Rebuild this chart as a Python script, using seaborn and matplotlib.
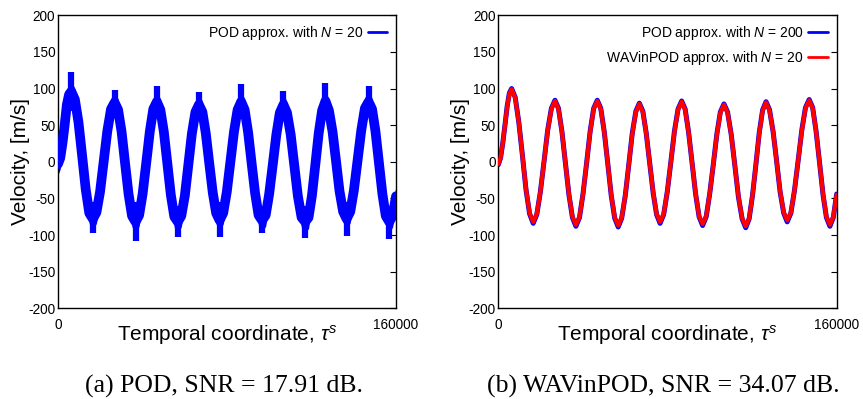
import matplotlib
matplotlib.use("Agg")
import matplotlib.pyplot as plt
import seaborn as sns
import pandas as pd

# ---------------- data ----------------
t = [0, 1050, 2100, 3150, 4200, 5250, 6300,
     8000, 9700, 11400, 13100, 14800, 16500,
     18200, 19900, 21650, 23350, 25100, 26800,
     28450, 30100, 31750, 33400, 35050, 36700,
     38400, 40050, 41750, 43450, 45100, 46800,
     48450, 50100, 51750, 53400, 55050, 56700,
     58350, 60050, 61700, 63350, 65050, 66700,
     68350, 69950, 71600, 73250, 74850, 76500,
     78200, 79900, 81600, 83300, 85000, 86700,
     88350, 90000, 91650, 93300, 94950, 96600,
     98300, 99950, 101650, 103350, 105000, 106700,
     108400, 110150, 111850, 113550, 115300, 117000,
     118600, 120200, 121800, 123400, 125000, 126600,
     128250, 129950, 131600, 133250, 134950, 136600,
     138350, 140050, 141800, 143550, 145250, 147000,
     148650, 150250, 151900, 153550, 155150, 156800,
     158400, 160000]

wavinpod_n20 = [-3, 5, 25, 50, 75, 93, 99,
                87, 54, 9, -37, -70, -82,
                -71, -41, 1, 42, 72, 83,
                72, 41, -2, -44, -75, -86,
                -75, -44, -2, 41, 72, 83,
                72, 41, -2, -45, -76, -87,
                -76, -46, -4, 38, 68, 79,
                68, 39, -2, -42, -71, -82,
                -71, -41, 0, 41, 71, 82,
                71, 40, -2, -43, -74, -85,
                -74, -44, -4, 37, 67, 78,
                67, 37, -5, -47, -77, -88,
                -77, -46, -4, 39, 70, 81,
                70, 41, 1, -40, -69, -80,
                -69, -39, 2, 43, 73, 84,
                73, 42, -1, -44, -75, -86,
                -75, -45]

pod_n200 = [-4, 5, 25, 50, 76, 94, 100,
            88, 54, 9, -38, -71, -84,
            -72, -41, 1, 43, 73, 84,
            73, 41, -2, -45, -76, -88,
            -76, -44, -2, 42, 73, 84,
            73, 41, -2, -46, -77, -89,
            -77, -46, -4, 39, 69, 80,
            69, 39, -2, -43, -72, -84,
            -72, -41, 0, 42, 72, 83,
            72, 40, -2, -44, -75, -87,
            -75, -44, -4, 38, 68, 79,
            68, 37, -5, -48, -78, -90,
            -78, -46, -4, 40, 71, 82,
            71, 41, 1, -41, -70, -82,
            -70, -39, 2, 44, 74, 85,
            74, 42, -1, -45, -76, -88,
            -76, -44]

pod_n20_center = [-3, 5, 25, 50, 78, 92, 96,
                  85, 54, 9, -37, -70, -78,
                  -69, -41, 1, 42, 72, 81,
                  71, 41, -2, -44, -74, -82,
                  -73, -44, -2, 41, 72, 82,
                  71, 41, -2, -45, -75, -82,
                  -74, -46, -4, 38, 68, 78,
                  68, 39, -2, -42, -70, -80,
                  -70, -41, 0, 41, 71, 82,
                  71, 40, -2, -43, -73, -80,
                  -73, -44, -4, 37, 67, 78,
                  67, 37, -5, -47, -76, -82,
                  -76, -46, -4, 39, 70, 83,
                  70, 41, 1, -40, -68, -78,
                  -68, -39, 2, 43, 73, 82,
                  72, 42, -1, -44, -74, -82,
                  -74, -47]
pod_n20_halfwidth = 15

# noisy spikes at the extrema of the POD N=20 curve (time, low, high)
spike_t = [6300, 16500, 26800, 36700, 46800, 56700, 66700, 76500,
           86700, 96600, 106700, 117000, 126600, 136600, 147000, 156800]
spike_lo = [70, -97, 62, -108, 65, -103, 60, -102,
            62, -97, 60, -104, 65, -101, 62, -105]
spike_hi = [122, -55, 98, -55, 104, -60, 95, -55,
            106, -60, 97, -60, 108, -55, 103, -60]

yticks = [-200, -150, -100, -50, 0, 50, 100, 150, 200]
xticks = [0, 160000]
xticklabels = ["0", "160000"]

# ---------------- style ----------------
sns.set_theme(style="ticks")
plt.rcParams["font.family"] = ["Liberation Sans", "DejaVu Sans"]
plt.rcParams["mathtext.fontset"] = "custom"
plt.rcParams["mathtext.it"] = "Liberation Sans:italic"
plt.rcParams["mathtext.rm"] = "Liberation Sans"
plt.rcParams["text.color"] = "black"
plt.rcParams["axes.labelcolor"] = "black"
plt.rcParams["xtick.color"] = "black"
plt.rcParams["ytick.color"] = "black"

BLUE = "#0000ff"
RED = "#ff0000"

fig = plt.figure(figsize=(8.63, 3.99), dpi=100)
ax1 = fig.add_axes([0.0672, 0.2273, 0.3917, 0.7344])
ax2 = fig.add_axes([0.5774, 0.2273, 0.3921, 0.7344])

df_left = pd.DataFrame({"t": t, "v": pod_n20_center})
df_right = pd.DataFrame({"t": t, "blue": pod_n200, "red": wavinpod_n20})

# left panel: noisy POD N=20 approximation
lo = [c - pod_n20_halfwidth for c in pod_n20_center]
hi = [c + pod_n20_halfwidth for c in pod_n20_center]
ax1.fill_between(t, lo, hi, color=BLUE, lw=0, zorder=2)
sns.lineplot(data=df_left, x="t", y="v", ax=ax1, color=BLUE, lw=7,
             label="POD approx. with $N$ = 20", zorder=3)
ax1.vlines(spike_t, spike_lo, spike_hi, color=BLUE, lw=4.5, zorder=3)

# right panel
sns.lineplot(data=df_right, x="t", y="blue", ax=ax2, color=BLUE, lw=3.6,
             label="POD approx. with $N$ = 200", zorder=2)
sns.lineplot(data=df_right, x="t", y="red", ax=ax2, color=RED, lw=3.0,
             label="WAVinPOD approx. with $N$ = 20", zorder=3)

for ax in (ax1, ax2):
    ax.set_xlim(0, 160000)
    ax.set_ylim(-200, 200)
    ax.set_yticks(yticks)
    ax.set_yticklabels([str(v) for v in yticks])
    ax.set_xticks(xticks)
    ax.set_xticklabels(xticklabels)
    ax.tick_params(axis="y", left=False, right=True, direction="in",
                   length=4, width=0.8, labelleft=True, labelsize=9.8,
                   pad=2, colors="black")
    ax.tick_params(axis="x", bottom=False, top=False, labelsize=9.8,
                   pad=1, colors="black")
    for s in ax.spines.values():
        s.set_visible(True)
        s.set_color("black")
        s.set_linewidth(1.0)
    ax.set_ylabel("Velocity, [m/s]", fontsize=15, va="center", color="black")
    ax.set_xlabel("Temporal coordinate, $\\tau^s$", fontsize=15,
                  va="baseline", color="black")
    ax.yaxis.set_label_coords(-0.112, 0.5)
    ax.xaxis.set_label_coords(0.5, -0.1106)
    leg = ax.legend(loc="upper right", frameon=False, fontsize=10,
                    markerfirst=False, handlelength=1.4, handletextpad=0.3,
                    borderaxespad=0.25, labelspacing=0.5)
    for txt in leg.get_texts():
        txt.set_color("black")
    for h in leg.get_lines():
        h.set_linewidth(2)

fig.text(0.2596, 0.016, "(a) POD, SNR = 17.91 dB.", ha="center",
         va="baseline", fontsize=18.5, color="black",
         family=["Liberation Serif", "DejaVu Serif"])
fig.text(0.7683, 0.016, "(b) WAVinPOD, SNR = 34.07 dB.", ha="center",
         va="baseline", fontsize=18.5, color="black",
         family=["Liberation Serif", "DejaVu Serif"])

fig.savefig("out.png", dpi=100)
